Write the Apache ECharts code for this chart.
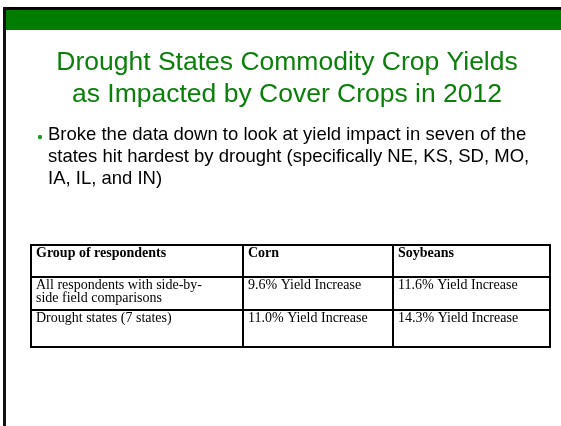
<!DOCTYPE html>
<html>
<head>
<meta charset="utf-8">
<script src="https://cdn.jsdelivr.net/npm/echarts@6/dist/echarts.min.js"></script>
<style>
  html, body { margin: 0; padding: 0; background: #fff; }
  #chart { width: 561px; height: 426px; }
</style>
</head>
<body>
<div id="chart"></div>
<script>
  // slide text
  const titleLines = ['Drought States Commodity Crop Yields', 'as Impacted by Cover Crops in 2012'];
  const bulletLines = [
    'Broke the data down to look at yield impact in seven of the',
    'states hit hardest by drought (specifically NE, KS, SD, MO,',
    'IA, IL, and IN)',
  ];

  // table data
  const headers = ['Group of respondents', 'Corn', 'Soybeans'];
  const groups = ['All respondents with side-by-\nside field comparisons', 'Drought states (7 states)'];
  const cornIncrease = [9.6, 11.0];
  const soyIncrease = [11.6, 14.3];

  const GREEN = '#0a7f0a';
  const colX = [31, 243, 393, 550];
  const rowY = [245, 277, 310, 347];

  const graphic = [];

  // frame + green band
  graphic.push({ type: 'rect', shape: { x: 3, y: 7, width: 561, height: 3 }, style: { fill: '#000' } });
  graphic.push({ type: 'rect', shape: { x: 3, y: 7, width: 3, height: 426 }, style: { fill: '#111' } });
  graphic.push({ type: 'rect', shape: { x: 6, y: 10, width: 561, height: 20 }, style: { fill: '#007d00' } });

  // title
  titleLines.forEach((t, i) => {
    graphic.push({
      type: 'text',
      x: 287, y: 63 + i * 32,
      style: {
        text: t, fill: GREEN, font: '26.5px "Liberation Sans", Arial, sans-serif',
        textAlign: 'center', textVerticalAlign: 'middle',
      },
    });
  });

  // bullet
  graphic.push({ type: 'circle', shape: { cx: 40, cy: 137, r: 2.2 }, style: { fill: '#1f9a1f' } });
  bulletLines.forEach((t, i) => {
    graphic.push({
      type: 'text',
      x: 48, y: 135 + i * 22,
      style: {
        text: t, fill: '#000', font: '18.5px "Liberation Sans", Arial, sans-serif',
        textAlign: 'left', textVerticalAlign: 'middle',
      },
    });
  });

  // table grid
  const lineStyle = { stroke: '#000', lineWidth: 2 };
  rowY.forEach((y) => {
    graphic.push({ type: 'line', shape: { x1: colX[0] - 1, y1: y, x2: colX[3] + 1, y2: y }, style: lineStyle });
  });
  colX.forEach((x) => {
    graphic.push({ type: 'line', shape: { x1: x, y1: rowY[0], x2: x, y2: rowY[3] }, style: lineStyle });
  });

  const cellText = (text, col, row, bold) => {
    graphic.push({
      type: 'text',
      x: colX[col] + 5, y: rowY[row] + 2,
      style: {
        text: text, fill: '#000', lineHeight: 13,
        font: (bold ? 'bold ' : '') + '14px "Liberation Serif", "Times New Roman", serif',
        textAlign: 'left', textVerticalAlign: 'top',
      },
    });
  };

  headers.forEach((h, c) => cellText(h, c, 0, true));
  groups.forEach((g, r) => {
    cellText(g, 0, r + 1, false);
    cellText(cornIncrease[r].toFixed(1) + '% Yield Increase', 1, r + 1, false);
    cellText(soyIncrease[r].toFixed(1) + '% Yield Increase', 2, r + 1, false);
  });

  const chart = echarts.init(document.getElementById('chart'), null, { renderer: 'canvas' });
  chart.setOption({
    backgroundColor: '#fff',
    animation: false,
    graphic: graphic,
  });
</script>
</body>
</html>
